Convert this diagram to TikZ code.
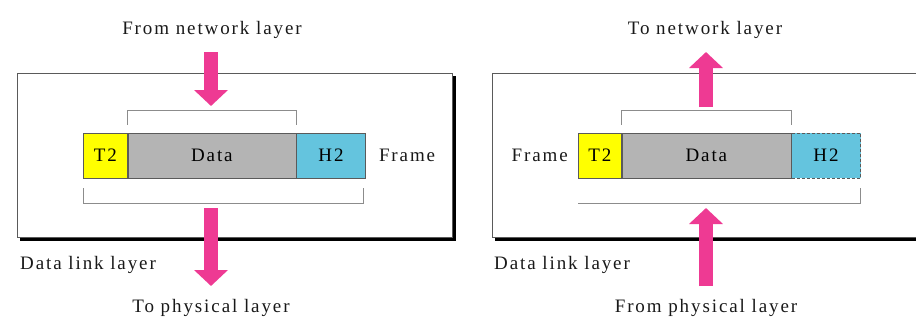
\documentclass[tikz,border=0pt]{standalone}
\usepackage{fontspec}
\setmainfont[LetterSpace=10]{Liberation Serif}
\usetikzlibrary{arrows.meta,positioning,calc}
\definecolor{Pink}{HTML}{EE3A93}
\definecolor{Trail}{HTML}{FFFF00}
\definecolor{Body}{HTML}{B4B4B4}
\definecolor{Head}{HTML}{64C4DE}
\definecolor{Rim}{HTML}{5A5A5A}

\begin{document}
\begin{tikzpicture}[x=1pt,y=-1pt,
    lbl/.style={font=\fontsize{19}{22}\selectfont,inner sep=0pt,text=black!90},
    field/.style={draw=Rim,line width=0.6pt,minimum height=45pt,inner sep=0pt,font=\fontsize{19}{22}\selectfont},
    brace/.style={draw=black!45,line width=0.8pt},
    pipe/.style={Pink,line width=14pt,-{Triangle[length=16pt,width=33pt]}},
    panel/.style={draw=Rim,fill=white,line width=0.6pt}]
  \useasboundingbox (0,0) rectangle (916,322);

  % sending side
  \fill (20,76) rectangle (456,241);
  \draw[panel] (17,73) rectangle (452,237);
  \node[field,fill=Trail,minimum width=44pt,anchor=west] (t2L) at (83,155.5) {T2};
  \node[field,fill=Body,minimum width=168pt,right=0pt of t2L] (dataL) {Data};
  \node[field,fill=Head,minimum width=69pt,right=0pt of dataL] (h2L) {H2};
  \node[lbl,right=13pt of h2L] (frameL) {Frame};
  \draw[brace] ([yshift=8pt]dataL.north west) |- ([yshift=22pt]dataL.north) -| ([yshift=8pt]dataL.north east);
  \draw[brace] ([yshift=-10pt]t2L.south west) |- ([yshift=-25pt]dataL.south) -| ([xshift=-2pt,yshift=-10pt]h2L.south east);
  \node[lbl] (fromnet) at (212,30) {From network layer};
  \node[lbl] (tophys) at (211,308) {To physical layer};
  \node[lbl,anchor=west] (dllL) at (20,265) {Data link layer};
  \coordinate (inTail) at (211,52);
  \coordinate (inTip) at (211,106);
  \coordinate (outTail) at (211,208);
  \coordinate (outTip) at (211,286);
  \draw[pipe] (inTail) -- (inTip);
  \draw[pipe] (outTail) -- (outTip);

  % receiving side
  \fill (495,76) rectangle (940,241);
  \draw[panel] (492,73) rectangle (935,237);
  \node[field,fill=Trail,minimum width=43pt,anchor=west] (t2R) at (578,155.5) {T2};
  \node[field,fill=Body,minimum width=169pt,right=0pt of t2R] (dataR) {Data};
  \node[field,fill=Head,minimum width=69pt,right=0pt of dataR,densely dashed] (h2R) {H2};
  \node[lbl,left=10pt of t2R] (frameR) {Frame};
  \draw[brace] ([yshift=8pt]dataR.north west) |- ([yshift=22pt]dataR.north) -| ([yshift=8pt]dataR.north east);
  \draw[brace] ([yshift=-25pt]t2R.south west) -| ([yshift=-10pt]h2R.south east);
  \node[lbl] (tonet) at (705,30) {To network layer};
  \node[lbl] (fromphys) at (706,308) {From physical layer};
  \node[lbl,anchor=west] (dllR) at (494,265) {Data link layer};
  \coordinate (upTail) at (706,107);
  \coordinate (upTip) at (706,52);
  \coordinate (riseTail) at (706,286);
  \coordinate (riseTip) at (706,208);
  \draw[pipe] (upTail) -- (upTip);
  \draw[pipe] (riseTail) -- (riseTip);
\end{tikzpicture}
\end{document}
